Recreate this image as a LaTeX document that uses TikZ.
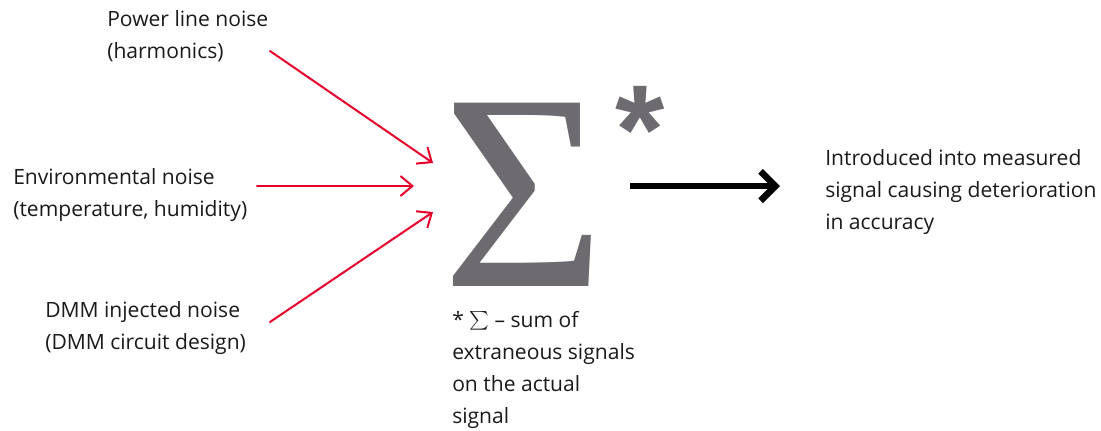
\documentclass[tikz,border=0pt]{standalone}
\usepackage{fontspec}
\setmainfont{Open Sans}
\newfontfamily\sigmafont{Liberation Serif}
\newfontfamily\starfont{Liberation Sans}
\usetikzlibrary{arrows.meta}
\definecolor{noisered}{HTML}{E4002B}
\definecolor{sumgray}{HTML}{6D6A70}
\definecolor{textblack}{HTML}{1A1A1A}

\begin{document}
\begin{tikzpicture}[x=0.75pt, y=-0.75pt, line join = round, line cap = round,
    txt/.style={inner sep=0pt, align=left, text=textblack, font=\fontsize{15.8}{24}\selectfont},
    noise/.style={draw=noisered, line width=1.5pt, -{Straight Barb[length=9pt,width=15pt]}}]

    \useasboundingbox (0,0) rectangle (1101,430);

    % noise sources
    \node[txt, anchor=west] (p) at (107,36) {Power line noise\\(harmonics)};
    \node[txt, anchor=west] (e) at (13,195) {Environmental noise\\(temperature, humidity)};
    \node[txt, anchor=west] (d) at (45,328) {DMM injected noise\\(DMM circuit design)};

    % sum
    \node[inner sep=0pt, anchor=north, text=sumgray, font=\sigmafont\fontsize{210}{210}\selectfont] (s) at (524,103) {Σ};
    \node[inner sep=0pt, anchor=north, text=sumgray, font=\starfont\bfseries\fontsize{95}{95}\selectfont] (star) at (640,86) {*};
    \node[txt, anchor=west] (n) at (452,370) {* \scalebox{1.4}{$\sum$} – sum of\\extraneous signals\\on the actual\\signal};

    % result
    \node[txt, anchor=west] (r) at (825,192) {Introduced into measured\\signal causing deterioration\\in accuracy};

    \coordinate (p1) at (270,51);  \coordinate (p2) at (433,163);
    \coordinate (e1) at (257,186); \coordinate (e2) at (414,186);
    \coordinate (d1) at (270,322); \coordinate (d2) at (433,212);
    \coordinate (s1) at (630,186); \coordinate (s2) at (780,186);

    \draw[noise] (p1) -- (p2);
    \draw[noise] (e1) -- (e2);
    \draw[noise] (d1) -- (d2);
    \draw[line width=5pt, line cap=butt, -{Straight Barb[length=11pt,width=22pt]}] (s1) -- (s2);

\end{tikzpicture}
\end{document}
